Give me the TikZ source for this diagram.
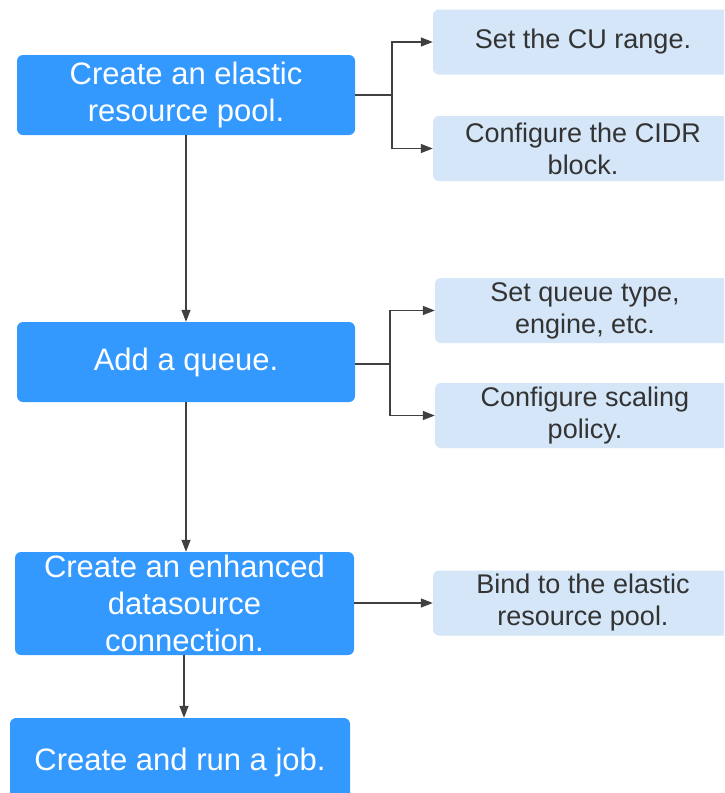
\documentclass[tikz,border=0pt]{standalone}
\usepackage{fontspec}
\setmainfont{Liberation Sans}
\usetikzlibrary{arrows.meta}
\definecolor{mainblue}{RGB}{51,153,255}
\definecolor{lightblue}{RGB}{212,230,248}
\definecolor{linegray}{RGB}{64,64,64}
\definecolor{textgray}{RGB}{51,51,51}
\begin{document}
\begin{tikzpicture}[x=1pt,y=-1pt,
  mainbox/.style={fill=mainblue, rounded corners=6pt, text=white, align=center,
    inner sep=0pt, font=\fontsize{31}{37}\selectfont},
  subbox/.style={fill=lightblue, rounded corners=6pt, text=textgray, align=center,
    inner sep=0pt, minimum width=300pt, minimum height=65pt, font=\fontsize{27}{32}\selectfont},
  conn/.style={draw=linegray, line width=1.3pt, -{Triangle[length=12pt,width=9pt]}},
  plain/.style={draw=linegray, line width=1.3pt}]
\clip (0,0) rectangle (724,793);
\fill[white] (0,0) rectangle (724,793);
\node[mainbox, minimum width=338pt, minimum height=80pt] (b1) at (186,95) {Create an elastic\\resource pool.};
\node[mainbox, minimum width=338pt, minimum height=80pt] (b2) at (186,362) {Add a queue.};
\node[mainbox, minimum width=339pt, minimum height=103pt] (b3) at (184.5,603.5) {Create an enhanced\\datasource\\connection.};
\node[mainbox, minimum width=340pt, minimum height=84pt, text depth=0pt] (b4) at (180,760) {\raisebox{2pt}{Create and run a job.}};
\node[subbox] (r1) at (583,42) {Set the CU range.};
\node[subbox] (r2) at (583,148.5) {Configure the CIDR\\block.};
\node[subbox] (r3) at (585,310.5) {Set queue type,\\engine, etc.};
\node[subbox] (r4) at (585,415.5) {Configure scaling\\policy.};
\node[subbox] (r5) at (583,603) {Bind to the elastic\\resource pool.};
\coordinate (j1) at (392,95);
\coordinate (j2) at (390,364);
\draw[plain] (b1.east |- j1) -- (j1);
\draw[conn] (j1) |- (r1.west);
\draw[conn] (j1) |- (r2.west);
\draw[plain] (b2.east |- j2) -- (j2);
\draw[conn] (j2) |- (r3.west);
\draw[conn] (j2) |- (r4.west);
\draw[conn] (b3.east |- r5.west) -- (r5.west);
\draw[conn] (b1.south) -- (b2.north);
\draw[conn] (b2.south) -- (b3.north -| b2.south);
\draw[conn] (b3.south -| 184,0) -- (b4.north -| 184,0);
\end{tikzpicture}
\end{document}
